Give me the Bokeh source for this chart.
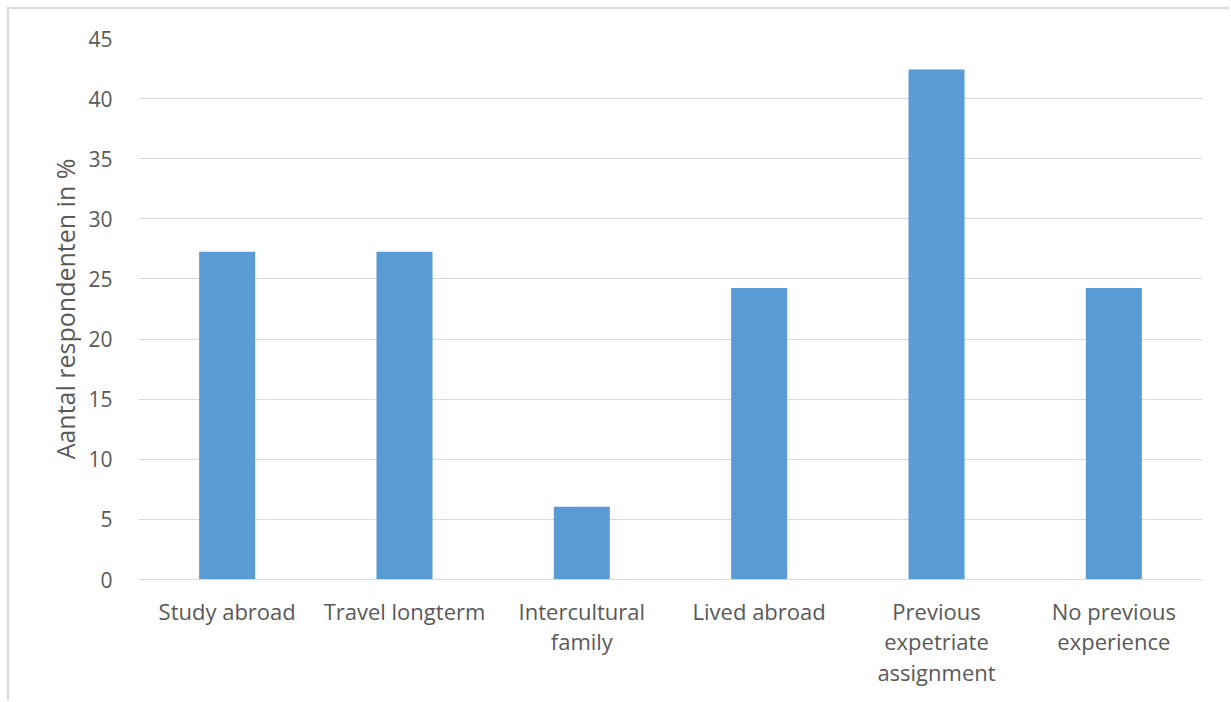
from bokeh.plotting import figure
from bokeh.embed import file_html
from bokeh.resources import INLINE

categories = ["Study abroad", "Travel longterm", "Intercultural\nfamily", "Lived abroad",
              "Previous\nexpetriate\nassignment", "No previous\nexperience"]
values = [27.27, 27.27, 6.06, 24.24, 42.42, 24.24]
y_ticks = [0, 5, 10, 15, 20, 25, 30, 35, 40, 45]

FONT = "Open Sans"
TXT = "#595959"
GRID = "#D9D9D9"

p = figure(x_range=categories, y_range=(0, 45), width=1222, height=693,
           output_backend="svg", toolbar_location=None,
           min_border_left=129, min_border_right=29, min_border_top=29, min_border_bottom=123)
p.margin = (9, 0, 0, 9)
p.styles = {"box-shadow": "-2px -2px 0px 0px #D9D9D9"}
p.outline_line_color = None
p.background_fill_color = "white"
p.border_fill_color = "white"

p.vbar(x=categories, top=values, width=0.316, color="#5B9BD5", line_color=None)

p.xgrid.grid_line_color = None
p.ygrid.grid_line_color = GRID
p.ygrid.grid_line_width = 1
p.yaxis.ticker = y_ticks
p.yaxis.axis_line_color = None
p.yaxis.major_tick_line_color = None
p.yaxis.minor_tick_line_color = None
p.yaxis.major_label_text_font = FONT
p.yaxis.major_label_text_font_size = "21px"
p.yaxis.major_label_text_color = TXT
p.yaxis.major_label_standoff = 20
p.yaxis.axis_label = "Aantal respondenten in %"
p.yaxis.axis_label_text_font = FONT
p.yaxis.axis_label_text_font_size = "25px"
p.yaxis.axis_label_text_font_style = "normal"
p.yaxis.axis_label_text_color = TXT
p.yaxis.axis_label_standoff = 3

p.xaxis.axis_line_color = GRID
p.xaxis.major_tick_line_color = None
p.xaxis.minor_tick_line_color = None
p.xaxis.major_label_text_font = FONT
p.xaxis.major_label_text_font_size = "22px"
p.xaxis.major_label_text_color = TXT
p.xaxis.major_label_standoff = 10
p.xaxis.major_label_text_line_height = 1.02

open("out.html", "w").write(file_html(p, INLINE))
